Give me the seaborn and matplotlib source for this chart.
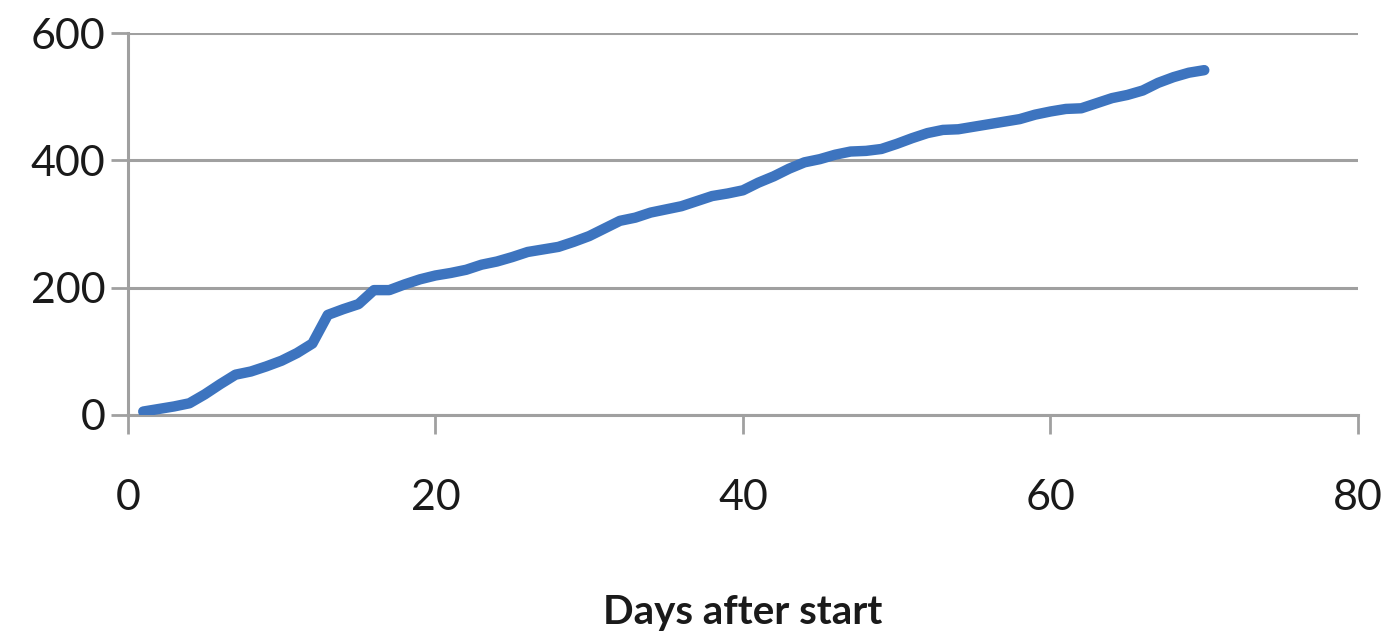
import numpy as np
import pandas as pd
import seaborn as sns
import matplotlib.pyplot as plt

# Values
days = list(range(1, 71))
counts = [5, 9, 13, 18, 32, 48, 63, 68, 76, 85,
          97, 112, 157, 166, 174, 196, 196, 205, 213, 219,
          223, 228, 236, 241, 248, 256, 260, 264, 272, 281,
          293, 305, 310, 318, 323, 328, 336, 344, 348, 353,
          365, 375, 387, 397, 402, 409, 414, 415, 418, 426,
          435, 443, 448, 449, 453, 457, 461, 465, 472, 477,
          481, 482, 490, 498, 503, 510, 522, 531, 538, 542]
x_ticks = [0, 20, 40, 60, 80]
y_ticks = [0, 200, 400, 600]

df = pd.DataFrame({"day": days, "count": counts})

sns.set_theme(style="white")
plt.rcParams["font.family"] = ["Lato", "DejaVu Sans"]

grey = "#a0a0a0"
fig = plt.figure(figsize=(13.9, 6.4), dpi=100)
ax = fig.add_axes([0.092, 0.352, 0.885, 0.596])

ax.grid(axis="y", color=grey, linewidth=2.2)
ax.set_axisbelow(True)
sns.lineplot(data=df, x="day", y="count", ax=ax, color="#3d74bf",
             linewidth=7.5, solid_capstyle="round", zorder=3)

ax.set_xlim(0, 80)
ax.set_ylim(0, 600)
ax.set_xticks(x_ticks)
ax.set_yticks(y_ticks)

for side in ["top", "right"]:
    ax.spines[side].set_visible(False)
ax.spines["left"].set_color(grey)
ax.spines["left"].set_linewidth(2.2)
ax.spines["bottom"].set_color(grey)
ax.spines["bottom"].set_linewidth(2.2)

ax.tick_params(axis="x", direction="out", length=14, width=2, color=grey,
               pad=32, labelsize=31, labelcolor="#1a1a1a")
ax.tick_params(axis="y", direction="out", length=12, width=2, color=grey,
               pad=4, labelsize=31, labelcolor="#1a1a1a")
ax.tick_params(bottom=True, left=True)

ax.set_ylabel("")
ax.set_xlabel("Days after start", fontsize=29, fontweight="bold",
              color="#1a1a1a", labelpad=56)

plt.savefig("out.png", dpi=100)
